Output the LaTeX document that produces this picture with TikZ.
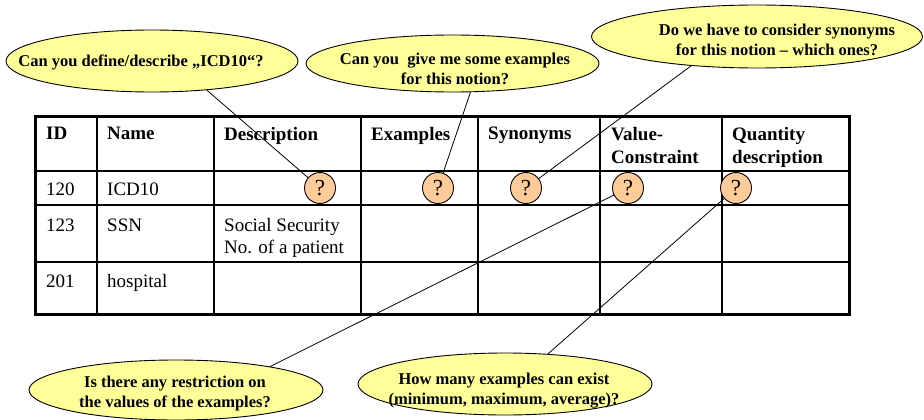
\documentclass[tikz,border=0pt]{standalone}
\usepackage{fontspec}
\setmainfont{Liberation Serif}
\usetikzlibrary{shapes.geometric}
\definecolor{bubblefill}{HTML}{FFFF99}
\definecolor{qfill}{HTML}{FFCC99}
\begin{document}
\begin{tikzpicture}[x=1pt,y=-1pt,
  bubble/.style={ellipse, draw=black, line width=0.9pt, fill=bubblefill, inner sep=0pt},
  btext/.style={align=center, inner sep=0pt, font=\bfseries\fontsize{16.5}{20}\selectfont},
  qmark/.style={circle, draw=black, line width=0.9pt, fill=qfill, minimum size=31pt, inner sep=0pt, font=\fontsize{23}{24}\selectfont},
  conn/.style={draw=black, line width=0.8pt},
  grid/.style={draw=black, line width=1.5pt},
  cell/.style={anchor=north west, inner sep=0pt, align=left, font=\fontsize{19}{22}\selectfont},
  head/.style={anchor=north west, inner sep=0pt, align=left, font=\bfseries\fontsize{19}{23.5}\selectfont}
]
\useasboundingbox (0,0) rectangle (924,420);

% table grid
\draw[grid] (97,116) -- (97,314);
\draw[grid] (214,116) -- (214,314);
\draw[grid] (361,116) -- (361,314);
\draw[grid] (478,116) -- (478,314);
\draw[grid] (600,116) -- (600,314);
\draw[grid] (722,116) -- (722,314);
\draw[grid] (35,171) -- (849,171);
\draw[grid] (35,205) -- (849,205);
\draw[grid] (35,262) -- (849,262);
\draw[draw=black, line width=3pt] (35,116) rectangle (849,314);

% header texts
\node[head] (hID) at (46,127) {ID};
\node[head] (hName) at (107,127) {Name};
\node[head] (hDesc) at (224,127) {Description};
\node[head] (hEx) at (371,127) {Examples};
\node[head] (hSyn) at (488,127) {Synonyms};
\node[head] (hVal) at (611,127) {Value-\\Constraint};
\node[head] (hQty) at (732,127) {Quantity\\description};

% body texts
\node[cell] (r1id) at (46,183) {120};
\node[cell] (r1name) at (107,183) {ICD10};
\node[cell] (r2id) at (46,218.5) {123};
\node[cell] (r2name) at (107,218.5) {SSN};
\node[cell] (r2desc) at (224,218.5) {Social Security\\No. of a patient};
\node[cell] (r3id) at (46,274.5) {201};
\node[cell] (r3name) at (107,274.5) {hospital};

% bubbles
\node[bubble, minimum width=292pt, minimum height=62pt] (e1) at (152,61) {};
\node[bubble, minimum width=293pt, minimum height=57pt] (e2) at (452.5,63.5) {};
\node[bubble, minimum width=331pt, minimum height=63pt] (e3) at (757,36.5) {};
\node[bubble, minimum width=294pt, minimum height=60pt] (e4) at (176,390) {};
\node[bubble, minimum width=294pt, minimum height=62pt] (e5) at (505,384) {};

\node[btext] (t1) at (141,62) {Can you define/describe „ICD10“?};
\node[btext] (t2) at (455,68.5) {Can you\ \ give me some examples\\for this notion?};
\node[btext] (t3) at (777,40) {Do we have to consider synonyms\\for this notion – which ones?};
\node[btext] (t4) at (175,394) {Is there any restriction on\\the values of the examples?};
\node[btext] (t5) at (504,390.5) {How many examples can exist\\(minimum, maximum, average)?};

% question circles
\node[qmark] (c1) at (320,188) {?};
\node[qmark] (c2) at (438,188) {?};
\node[qmark] (c3) at (526,188) {?};
\node[qmark] (c4) at (628,188) {?};
\node[qmark] (c5) at (736,188) {?};

% connectors
\draw[conn] (e1.-28) -- (c1);
\draw[conn] (e2.-58) -- (c2);
\draw[conn] (e3.-156) -- (c3);
\draw[conn] (c4) -- (e4.14);
\draw[conn] (c5) -- (e5.35);
\end{tikzpicture}
\end{document}
